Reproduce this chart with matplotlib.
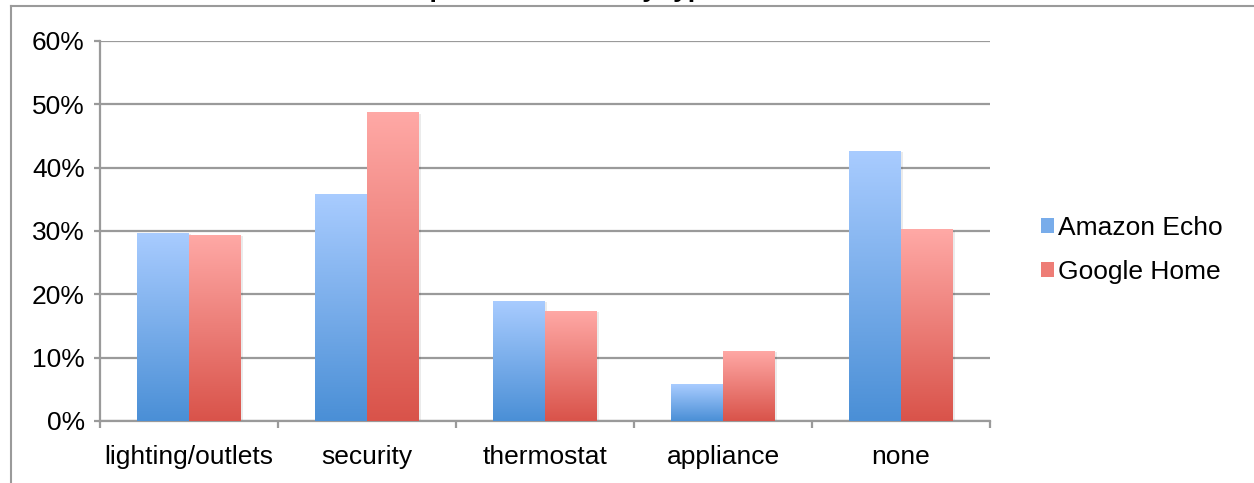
import numpy as np
import matplotlib
matplotlib.use('Agg')
import matplotlib.pyplot as plt
from matplotlib.colors import LinearSegmentedColormap
from matplotlib.patches import Rectangle, Patch
from matplotlib.lines import Line2D
from matplotlib.ticker import FuncFormatter, FixedLocator

plt.rcParams['font.family'] = ['Liberation Sans', 'DejaVu Sans']

categories = ['lighting/outlets', 'security', 'thermostat', 'appliance', 'none']
series_names = ['Amazon Echo', 'Google Home']
echo = [29.7, 35.9, 19.0, 5.8, 42.7]
home = [29.4, 48.8, 17.4, 11.1, 30.3]
title = 'Compatible devices by type'

blue_cm = LinearSegmentedColormap.from_list('b', ['#4a8fd6', '#a9ccff'])
red_cm = LinearSegmentedColormap.from_list('r', ['#d9534a', '#ffa9a6'])

W, H = 1254, 483
fig = plt.figure(figsize=(W / 100, H / 100), dpi=100)
ax = fig.add_axes([100 / W, 1 - 421 / H, 890 / W, 380 / H])

grey = '#9a9a9a'
x = np.arange(len(categories))
bw = 0.29

def grad_bars(xs, vals, cmap):
    bars = ax.bar(xs, vals, bw, color='none', edgecolor='none', zorder=3)
    grad = np.linspace(0, 1, 256).reshape(-1, 1)
    for b in bars:
        bx, by = b.get_x(), b.get_y()
        w, h = b.get_width(), b.get_height()
        # soft shadow
        sh = Rectangle((bx + 0.012, by), w, h - 0.25, facecolor='k', alpha=0.08,
                       edgecolor='none', zorder=2.5)
        ax.add_patch(sh)
        im = ax.imshow(grad, cmap=cmap, origin='lower', aspect='auto',
                       extent=[bx, bx + w, by, by + h], zorder=3,
                       interpolation='bicubic')
        im.set_clip_path(b)
    return bars

grad_bars(x - bw / 2, echo, blue_cm)
grad_bars(x + bw / 2, home, red_cm)

ax.set_xlim(-0.5, len(categories) - 0.5)
ax.set_ylim(0, 60)
ax.set_yticks(np.arange(0, 61, 10))
ax.yaxis.set_major_formatter(FuncFormatter(lambda v, p: '%d%%' % v))
ax.set_xticks(x)
ax.set_xticklabels(categories)
ax.xaxis.set_minor_locator(FixedLocator(np.arange(-0.5, len(categories), 1)))

ax.grid(axis='y', color=grey, linewidth=1.6, zorder=1)
ax.set_axisbelow(True)
for s in ['top', 'right']:
    ax.spines[s].set_visible(False)
for s in ['left', 'bottom']:
    ax.spines[s].set_color(grey)
    ax.spines[s].set_linewidth(1.6)

ax.tick_params(axis='y', length=4, width=1.6, color=grey, labelsize=19, pad=7)
ax.tick_params(axis='x', which='major', length=0, labelsize=19, pad=17)
ax.tick_params(axis='x', which='minor', length=5, width=1.6, color=grey)

handles = [Patch(facecolor='#78acea', edgecolor='none'),
           Patch(facecolor='#ee7d76', edgecolor='none')]
fig.legend(handles, series_names, loc='center left',
           bbox_to_anchor=(1017 / W, 1 - 250 / H), frameon=False,
           fontsize=19, handlelength=0.5, handleheight=0.5,
           handletextpad=0.15, labelspacing=0.75)

# outer chart frame
fig.add_artist(Line2D([11 / W, 11 / W], [0, 1 - 6 / H], color=grey, lw=1.5))
fig.add_artist(Line2D([11 / W, 1], [1 - 6 / H, 1 - 6 / H], color=grey, lw=1.5))

# title sits above the visible area, only its descenders show
fig.text(545 / W, 1 + 3 / H, title, ha='center', va='baseline',
         fontsize=19, fontweight='bold')

fig.savefig('out.png', dpi=100)
